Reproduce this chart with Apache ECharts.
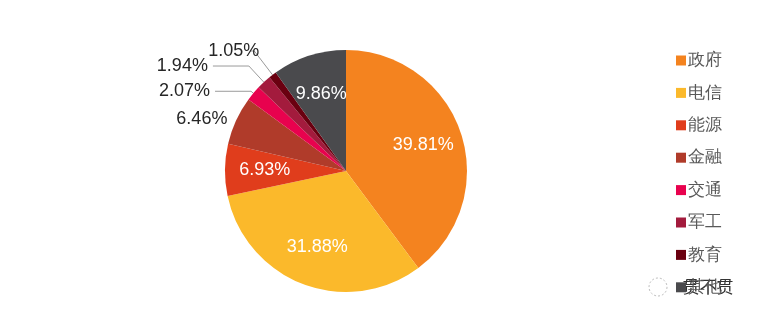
<!DOCTYPE html>
<html><head><meta charset="utf-8">
<script src="https://cdn.jsdelivr.net/npm/echarts@6/dist/echarts.min.js"></script>
<style>html,body{margin:0;padding:0;background:#fff}#c{width:759px;height:320px}</style>
</head><body><div id="c"></div>
<script>
const categories = ['政府','电信','能源','金融','交通','军工','教育','其他'];
const shares = [39.81, 31.88, 6.93, 6.46, 2.07, 1.94, 1.05, 9.86];
const colors = ['#F4831F','#FBB92B','#E03D1C','#B03B2A','#E8024E','#A31B3D','#6A0010','#4A4A4D'];
const labelInside = [true, true, true, false, false, false, false, true];

const chart = echarts.init(document.getElementById('c'));
const font = 'Liberation Sans, Arial, sans-serif';
const data = categories.map((name, i) => {
  const item = { name, value: shares[i], itemStyle: { color: colors[i] } };
  if (labelInside[i]) {
    item.label = { position: 'inside', color: '#fff' };
  } else {
    item.label = { position: 'outside', color: '#262626' };
  }
  return item;
});
// leader line tuning for the small outside slices
data[3].labelLine = { show: false, length: 4, length2: 0 };
data[4].labelLine = { length: 3, length2: 36 };
data[5].labelLine = { length: 22, length2: 36 };
data[6].labelLine = { length: 30, length2: 4 };

chart.setOption({
  animation: false,
  color: colors,
  legend: {
    orient: 'vertical', left: 676, top: 52, padding: 0,
    itemWidth: 10, itemHeight: 10, itemGap: 15.4,
    icon: 'rect',
    textStyle: { fontSize: 17, color: '#595959', fontFamily: font, padding: [0,0,0,-3] },
    data: categories
  },
  series: [{
    type: 'pie',
    center: [346, 171],
    radius: 121,
    startAngle: 90,
    clockwise: true,
    avoidLabelOverlap: false,
    data: data,
    label: {
      fontSize: 18, fontFamily: font,
      formatter: p => p.value.toFixed(2) + '%'
    },
    labelLine: { lineStyle: { color: '#9a9a9a', width: 1 } },
    labelLayout: function (params) {
      const i = params.dataIndex;
      if (labelInside[i]) {
        const r = params.labelRect;
        const cx = r.x + r.width / 2, cy = r.y + r.height / 2;
        const k = 0.28;
        return { dx: (cx - 346) * k, dy: (cy - 171) * k };
      }
      if (i === 6) return { dx: 14, dy: 0 };
      return {};
    },
    emphasis: { disabled: true }
  }],
  graphic: [{
    type: 'text', left: 681, top: 277,
    style: { text: '贯不贯', fontSize: 17, fill: '#333', stroke: '#fff', lineWidth: 3,
      fontFamily: 'Noto Sans CJK SC', backgroundColor: 'rgba(255,255,255,0.85)' }
  }, {
    type: 'circle', shape: { cx: 658, cy: 287, r: 9 },
    style: { fill: 'none', stroke: '#bbb', lineWidth: 1, lineDash: [2, 2] }
  }]
});
</script></body></html>
